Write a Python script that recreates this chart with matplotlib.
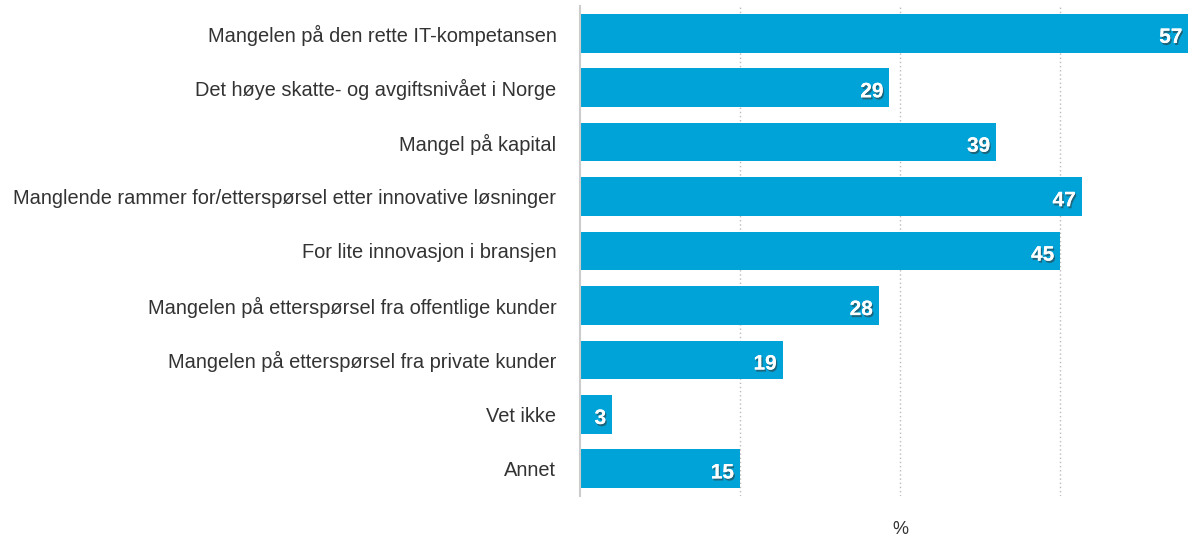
import matplotlib.pyplot as plt
import matplotlib.patheffects as pe

plt.rcParams["font.family"] = ["Liberation Sans", "DejaVu Sans"]

categories = [
    "Mangelen på den rette IT-kompetansen",
    "Det høye skatte- og avgiftsnivået i Norge",
    "Mangel på kapital",
    "Manglende rammer for/etterspørsel etter innovative løsninger",
    "For lite innovasjon i bransjen",
    "Mangelen på etterspørsel fra offentlige kunder",
    "Mangelen på etterspørsel fra private kunder",
    "Vet ikke",
    "Annet",
]
values = [57, 29, 39, 47, 45, 28, 19, 3, 15]
grid_ticks = [15, 30, 45]

BLUE = "#00a3d7"

fig = plt.figure(figsize=(11.9, 5.42), dpi=100)
ax = fig.add_axes([0.4874, 0.085, 0.5111, 0.904])

pos = list(range(len(categories)))
ax.barh(pos, values, height=0.71, color=BLUE, zorder=2)

for y, v in zip(pos, values):
    ax.text(
        v - 0.55, y + 0.04, str(v), ha="right", va="center_baseline", color="white",
        fontsize=15, fontweight="bold", zorder=3,
        path_effects=[pe.withSimplePatchShadow(offset=(1, -1.5), shadow_rgbFace="#333333", alpha=0.55), pe.Normal()],
    )

ax.set_ylim(len(categories) - 0.5, -0.5)
ax.set_xlim(0, 57)
ax.set_yticks(pos)
ax.set_yticklabels(categories, fontsize=14.4, color="#333333")
ax.tick_params(axis="y", length=0, pad=17)
ax.set_xticks(grid_ticks)
ax.tick_params(axis="x", length=0, labelbottom=False)
ax.grid(axis="x", color="#bbbbbb", linestyle=(0, (1, 2)), linewidth=1, zorder=1)

for side in ["top", "right", "bottom"]:
    ax.spines[side].set_visible(False)
ax.spines["left"].set_color("#cccccc")
ax.spines["left"].set_linewidth(1.5)

fig.text(900 / 1190, 1 - 530 / 542, "%", ha="center", va="center", fontsize=13, color="#333333")

fig.savefig("out.png", dpi=100)
